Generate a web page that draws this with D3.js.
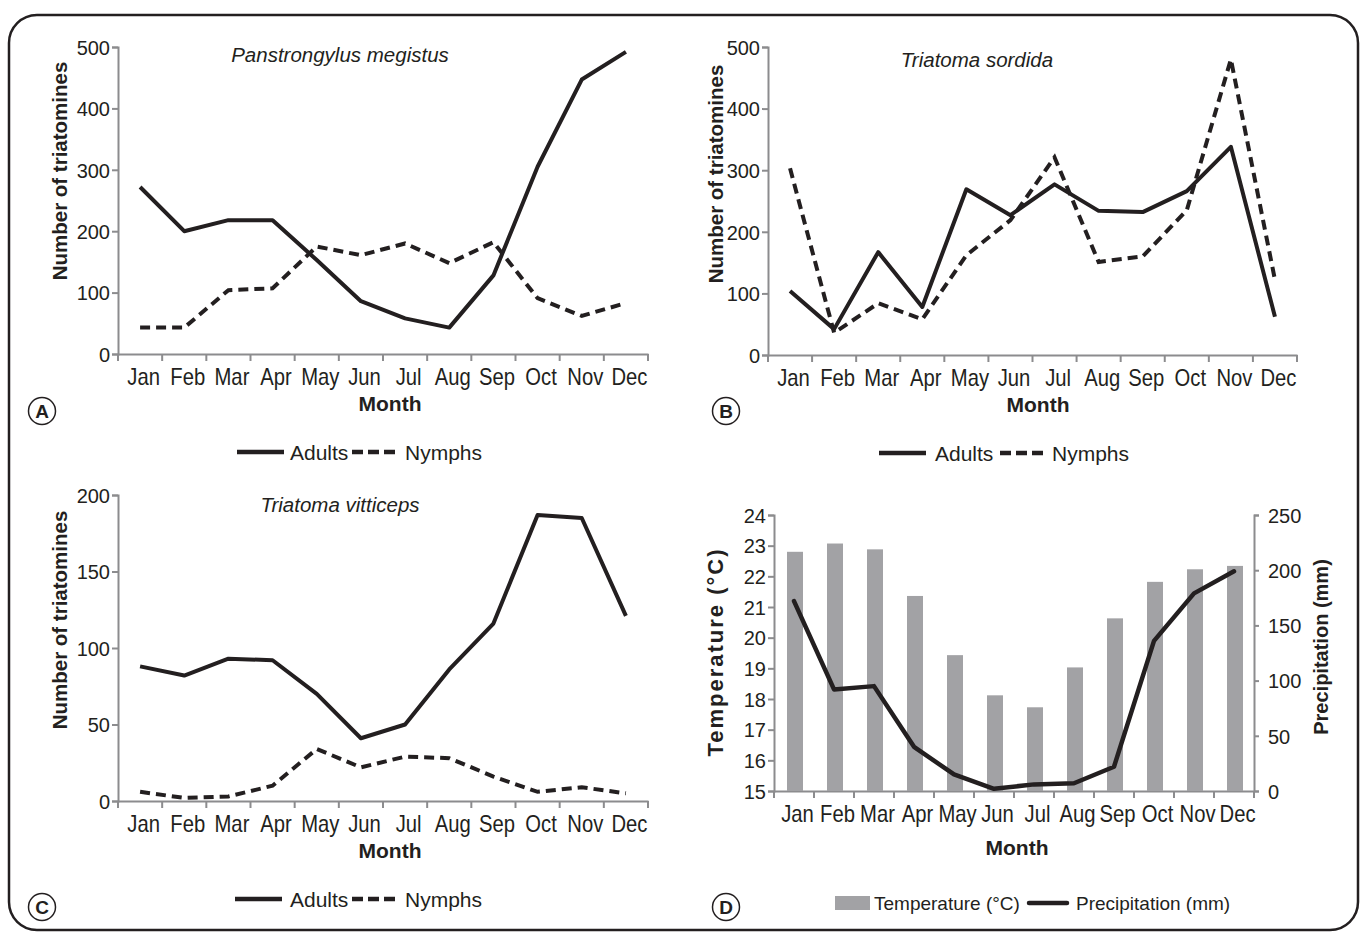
<!DOCTYPE html>
<html>
<head>
<meta charset="utf-8">
<script src="https://cdn.jsdelivr.net/npm/d3@7"></script>
<style>
  body { margin: 0; background: #fff; }
  svg text { fill: #231f20; font-family: "Liberation Sans", Arial, sans-serif; }
  .tick-lbl { font-size: 20px; }
  .mon-lbl { font-size: 23px; }
  .ttl { font-size: 20.5px; font-style: italic; }
  .axlab { font-weight: bold; }
  .mon { font-weight: bold; font-size: 21px; }
  .leg { font-size: 21px; }
</style>
</head>
<body>
<div id="chart"></div>
<script>
// data
let months = ["Jan","Feb","Mar","Apr","May","Jun","Jul","Aug","Sep","Oct","Nov","Dec"];

let megistus_adults = [272, 200, 218, 218, 153, 86, 58, 43, 128, 305, 447, 492];
let megistus_nymphs = [43, 43, 104, 107, 175, 161, 180, 148, 182, 91, 62, 83];

let sordida_adults = [104, 42, 167, 78, 269, 227, 277, 234, 232, 266, 338, 62];
let sordida_nymphs = [303, 36, 84, 58, 162, 219, 321, 151, 160, 235, 480, 122];

let vitticeps_adults = [88, 82, 93, 92, 70, 41, 50, 86, 116, 187, 185, 121];
let vitticeps_nymphs = [6, 2, 3, 10, 34, 22, 29, 28, 16, 6, 9, 5];

let temperature = [22.8, 23.07, 22.88, 21.36, 19.43, 18.12, 17.73, 19.03, 20.63, 21.82, 22.23, 22.34];
let precipitation = [172, 92, 95, 40, 15, 2, 6, 7, 22, 136, 179, 199];

let countTicks = [0, 100, 200, 300, 400, 500];
let countTicksC = [0, 50, 100, 150, 200];
let tempTicks = [15, 16, 17, 18, 19, 20, 21, 22, 23, 24];
let precTicks = [0, 50, 100, 150, 200, 250];

let axisColor = "#8c8c8e";
let lineColor = "#231f20";

let svg = d3.select("#chart").append("svg")
    .attr("width", 1360)
    .attr("height", 934);

// outer frame
svg.append("rect")
    .attr("x", 9).attr("y", 15)
    .attr("width", 1349).attr("height", 915)
    .attr("rx", 28).attr("ry", 28)
    .attr("fill", "none")
    .attr("stroke", "#231f20")
    .attr("stroke-width", 2.5);

function styleAxis(g){
    g.selectAll(".domain").attr("stroke", axisColor).attr("stroke-width", 2);
    g.selectAll(".tick line").attr("stroke", axisColor).attr("stroke-width", 2);
    g.selectAll(".tick text").attr("class", "tick-lbl").attr("fill", "#231f20");
}

function panelLetter(cx, cy, letter){
    svg.append("circle").attr("cx", cx).attr("cy", cy).attr("r", 13.5)
        .attr("fill", "none").attr("stroke", "#231f20").attr("stroke-width", 1.5);
    svg.append("text").attr("x", cx).attr("y", cy + 7)
        .attr("text-anchor", "middle")
        .attr("class", "axlab").style("font-size", "19px")
        .text(letter);
}

function monthAxis(left, right, bottom){
    let x = d3.scaleBand().domain(months).range([left, right]);
    let g = svg.append("g")
        .attr("transform", "translate(0," + bottom + ")")
        .call(d3.axisBottom(x).tickSize(0));
    styleAxis(g);
    // narrow month labels, sitting a little right of the band centre
    g.selectAll(".tick text")
        .attr("class", "mon-lbl")
        .attr("x", 4).attr("y", 31).attr("dy", 0)
        .attr("transform", "scale(0.88,1)");
    // tick marks sit on the band boundaries
    let bounds = months.map(m => x(m)).concat([right]);
    g.selectAll(".bnd").data(bounds).enter().append("line")
        .attr("x1", d => d).attr("x2", d => d)
        .attr("y1", 0).attr("y2", 7)
        .attr("stroke", axisColor).attr("stroke-width", 2);
    return x;
}

function countPanel(p){
    let x = monthAxis(p.left, p.right, p.bottom);
    let y = d3.scaleLinear().domain([0, p.max]).range([p.bottom, p.top]);

    let gy = svg.append("g")
        .attr("transform", "translate(" + p.left + ",0)")
        .call(d3.axisLeft(y).tickValues(p.ticks).tickSize(6).tickPadding(2));
    styleAxis(gy);
    gy.selectAll(".tick text").attr("dy", "0.36em");

    let line = d3.line()
        .x((d, i) => x(months[i]) + x.bandwidth() / 2)
        .y(d => y(d));

    svg.append("path").datum(p.nymphs)
        .attr("d", line).attr("fill", "none")
        .attr("stroke", lineColor).attr("stroke-width", 4)
        .attr("stroke-dasharray", "10,6");
    svg.append("path").datum(p.adults)
        .attr("d", line).attr("fill", "none")
        .attr("stroke", lineColor).attr("stroke-width", 4)
        .attr("stroke-linejoin", "round");

    svg.append("text").attr("class", "ttl")
        .attr("x", p.titleX).attr("y", p.titleY)
        .attr("text-anchor", "middle").text(p.title);

    svg.append("text").attr("class", "axlab").style("font-size", "20.5px")
        .attr("transform", "translate(" + p.ylabX + "," + p.ylabY + ") rotate(-90)")
        .attr("text-anchor", "middle").text("Number of triatomines");

    svg.append("text").attr("class", "mon")
        .attr("x", p.monX).attr("y", p.bottom + 57)
        .attr("text-anchor", "middle").text("Month");

    // legend
    let ly = p.legY, lx = p.legX, o = p.legOff;
    svg.append("line").attr("x1", lx).attr("x2", lx + 47)
        .attr("y1", ly).attr("y2", ly)
        .attr("stroke", lineColor).attr("stroke-width", 4.5);
    svg.append("text").attr("class", "leg").attr("x", lx + o[0]).attr("y", ly + 8).text("Adults");
    svg.append("line").attr("x1", lx + o[1]).attr("x2", lx + o[1] + 43)
        .attr("y1", ly).attr("y2", ly)
        .attr("stroke", lineColor).attr("stroke-width", 4.5)
        .attr("stroke-dasharray", "11,5");
    svg.append("text").attr("class", "leg").attr("x", lx + o[2]).attr("y", ly + 8).text("Nymphs");

    panelLetter(p.letX, p.letY, p.letter);
}

countPanel({left: 118, right: 648, top: 47, bottom: 354, max: 500, ticks: countTicks,
    adults: megistus_adults, nymphs: megistus_nymphs,
    title: "Panstrongylus megistus", titleX: 340, titleY: 62, monX: 390,
    ylabX: 67, ylabY: 171, legX: 237, legY: 452, legOff: [53, 115, 168],
    letter: "A", letX: 42, letY: 411});

countPanel({left: 768, right: 1297, top: 47, bottom: 355, max: 500, ticks: countTicks,
    adults: sordida_adults, nymphs: sordida_nymphs,
    title: "Triatoma sordida", titleX: 977, titleY: 67, monX: 1038,
    ylabX: 723, ylabY: 174, legX: 879, legY: 453, legOff: [56, 121, 173],
    letter: "B", letX: 726, letY: 411});

countPanel({left: 118, right: 648, top: 495, bottom: 801, max: 200, ticks: countTicksC,
    adults: vitticeps_adults, nymphs: vitticeps_nymphs,
    title: "Triatoma vitticeps", titleX: 340, titleY: 512, monX: 390,
    ylabX: 67, ylabY: 620, legX: 235, legY: 899, legOff: [55, 117, 170],
    letter: "C", letX: 42, letY: 907});

// panel D: temperature bars + precipitation line
(function(){
    let left = 774, right = 1254, top = 515, bottom = 791;
    let x = monthAxis(left, right, bottom);
    let yT = d3.scaleLinear().domain([15, 24]).range([bottom, top]);
    let yP = d3.scaleLinear().domain([0, 250]).range([bottom, top]);

    let barW = 16;
    svg.append("g").selectAll("rect").data(temperature).enter().append("rect")
        .attr("x", (d, i) => x(months[i]) + x.bandwidth() / 2 - barW / 2 + 1)
        .attr("width", barW)
        .attr("y", d => yT(d))
        .attr("height", d => bottom - yT(d))
        .attr("fill", "#a2a2a5");

    let gl = svg.append("g")
        .attr("transform", "translate(" + left + ",0)")
        .call(d3.axisLeft(yT).tickValues(tempTicks).tickSize(6).tickPadding(2));
    styleAxis(gl);
    gl.selectAll(".tick text").attr("dy", "0.36em");

    let gr = svg.append("g")
        .attr("transform", "translate(" + right + ",0)")
        .call(d3.axisRight(yP).tickValues(precTicks).tickSize(5).tickPadding(9));
    styleAxis(gr);
    gr.selectAll(".tick text").attr("dy", "0.36em");

    let line = d3.line()
        .x((d, i) => x(months[i]) + x.bandwidth() / 2)
        .y(d => yP(d));
    svg.append("path").datum(precipitation)
        .attr("d", line).attr("fill", "none")
        .attr("stroke", lineColor).attr("stroke-width", 4.5)
        .attr("stroke-linejoin", "round").attr("stroke-linecap", "round");

    svg.append("text").attr("class", "axlab")
        .style("font-size", "22px").style("letter-spacing", "2px")
        .attr("transform", "translate(723,652) rotate(-90)")
        .attr("text-anchor", "middle").text("Temperature (°C)");
    svg.append("text").attr("class", "axlab").style("font-size", "20px")
        .attr("transform", "translate(1328,647) rotate(-90)")
        .attr("text-anchor", "middle").text("Precipitation (mm)");

    svg.append("text").attr("class", "mon")
        .attr("x", 1017).attr("y", 855)
        .attr("text-anchor", "middle").text("Month");

    let ly = 903;
    svg.append("rect").attr("x", 835).attr("y", ly - 7).attr("width", 35).attr("height", 14)
        .attr("fill", "#a2a2a5");
    svg.append("text").attr("class", "leg").style("font-size", "19px")
        .attr("x", 874).attr("y", ly + 7).text("Temperature (°C)");
    svg.append("line").attr("x1", 1029).attr("x2", 1067)
        .attr("y1", ly).attr("y2", ly)
        .attr("stroke", lineColor).attr("stroke-width", 4.5).attr("stroke-linecap", "round");
    svg.append("text").attr("class", "leg").style("font-size", "19px")
        .attr("x", 1076).attr("y", ly + 7).text("Precipitation (mm)");

    panelLetter(726, 907, "D");
})();
</script>
</body>
</html>
